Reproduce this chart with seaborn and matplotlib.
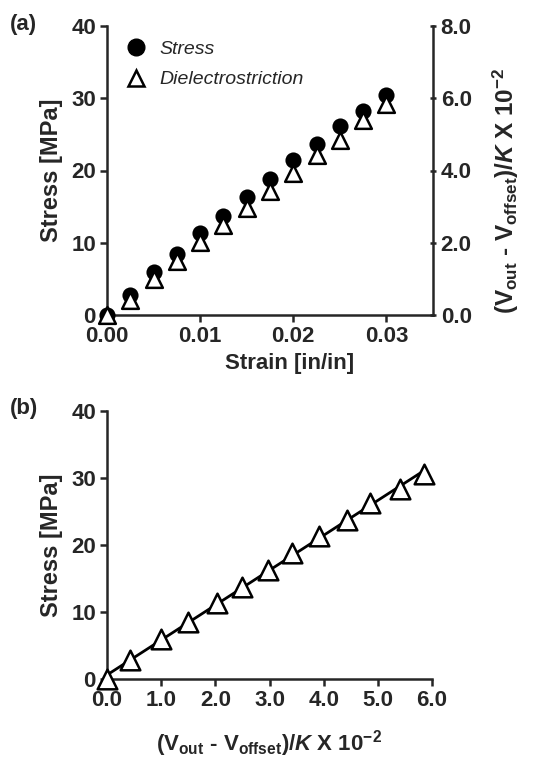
import numpy as np
import pandas as pd
import matplotlib
matplotlib.use("Agg")
import matplotlib.pyplot as plt
import seaborn as sns
from matplotlib.lines import Line2D

# ---- data ----
strain = [0.0, 0.0025, 0.005, 0.0075, 0.01, 0.0125, 0.015, 0.0175, 0.02, 0.0225, 0.025, 0.0275, 0.03]
stress = [0.0, 2.8, 6.0, 8.5, 11.3, 13.7, 16.3, 18.8, 21.4, 23.7, 26.2, 28.3, 30.5]
dielectro = [0.0, 0.42, 1.0, 1.5, 2.03, 2.5, 2.97, 3.42, 3.92, 4.43, 4.85, 5.4, 5.85]
stress_ticks = [0, 10, 20, 30, 40]
strain_ticks = [0.0, 0.01, 0.02, 0.03]
right_ticks = [0.0, 2.0, 4.0, 6.0, 8.0]
vout_ticks = [0.0, 1.0, 2.0, 3.0, 4.0, 5.0, 6.0]

df = pd.DataFrame({"strain": strain, "stress": stress, "diel": dielectro})

sns.set_theme(style="ticks")
plt.rcParams["font.family"] = ["Liberation Sans", "DejaVu Sans"]
plt.rcParams["font.weight"] = "bold"
plt.rcParams["axes.labelweight"] = "bold"
plt.rcParams["mathtext.fontset"] = "custom"
plt.rcParams["mathtext.rm"] = "Liberation Sans:bold"
plt.rcParams["mathtext.bf"] = "Liberation Sans:bold"
plt.rcParams["mathtext.it"] = "Liberation Sans:italic:bold"

fig = plt.figure(figsize=(5.34, 7.73), dpi=100)
axa = fig.add_axes([107/534, 1-315/773, (433-107)/534, (315-26)/773])
axb = fig.add_axes([107/534, 1-679.3/773, (432-107)/534, (679.3-410.7)/773])

lw = 1.8
tick_fs = 16
lab_fs = 16

# ---- panel (a) ----
axa2 = axa.twinx()
sns.scatterplot(data=df, x="strain", y="stress", ax=axa, marker="o", s=135,
                color="black", edgecolor="black", linewidth=0, clip_on=False, zorder=3)
sns.scatterplot(data=df, x="strain", y="diel", ax=axa2, marker="^", s=145,
                facecolor="white", edgecolor="black", linewidth=1.8, clip_on=False, zorder=4)
axa.set_xlim(0, 0.035)
axa.set_ylim(0, 40)
axa2.set_ylim(0, 8)
axa.set_xticks(strain_ticks)
axa.set_xticklabels(["0.00", "0.01", "0.02", "0.03"])
axa.set_yticks(stress_ticks)
axa2.set_yticks(right_ticks)
axa2.set_yticklabels([f"{v:.1f}" for v in right_ticks])
axa.set_xlabel("Strain [in/in]", fontsize=lab_fs, labelpad=4, x=0.56)
axa.set_ylabel("Stress [MPa]", fontsize=lab_fs + 1, labelpad=6)
axa2.set_ylabel(r"$(\mathrm{V_{out}}$ - $\mathrm{V_{offset}})/\mathit{K}$ X 10$^{-2}$",
                fontsize=17.5, labelpad=14, y=0.43)
for ax in (axa, axa2):
    ax.spines["top"].set_visible(False)
    for s in ax.spines.values():
        s.set_linewidth(lw)
axa.spines["right"].set_visible(False)
axa2.spines["left"].set_visible(False)
axa2.spines["bottom"].set_visible(False)
axa.tick_params(axis="both", labelsize=tick_fs, width=lw, length=5, direction="out", pad=3)
axa2.tick_params(axis="y", labelsize=tick_fs, width=lw, length=5, direction="inout", pad=3)
# triangles drawn above circles
axa.set_zorder(0)
axa2.set_zorder(1)
axa2.patch.set_visible(False)

handles = [Line2D([], [], marker="o", ls="none", color="black", markersize=12),
           Line2D([], [], marker="^", ls="none", markerfacecolor="white",
                  markeredgecolor="black", markeredgewidth=1.8, markersize=12)]
leg = axa2.legend(handles, ["Stress", "Dielectrostriction"], loc="upper left",
                  bbox_to_anchor=(-0.025, 1.01), frameon=False, handletextpad=0.2,
                  labelspacing=0.65, prop={"style": "italic", "size": 14, "weight": "normal"})

# ---- panel (b) ----
sns.regplot(data=df, x="diel", y="stress", ax=axb, ci=None, scatter=False,
            color="black", line_kws={"linewidth": 2.0})
sns.scatterplot(data=df, x="diel", y="stress", ax=axb, marker="^", s=200,
                facecolor="white", edgecolor="black", linewidth=1.8, clip_on=False, zorder=4)
axb.set_xlim(0, 6.0)
axb.set_ylim(0, 40)
axb.set_xticks(vout_ticks)
axb.set_xticklabels([f"{v:.1f}" for v in vout_ticks])
axb.set_yticks(stress_ticks)
axb.set_ylabel("Stress [MPa]", fontsize=lab_fs + 1, labelpad=6)
axb.set_xlabel(r"$(\mathrm{V_{out}}$ - $\mathrm{V_{offset}})/\mathit{K}$ X 10$^{-2}$",
               fontsize=lab_fs, labelpad=12)
sns.despine(ax=axb)
for s in axb.spines.values():
    s.set_linewidth(lw)
axb.tick_params(axis="both", labelsize=tick_fs, width=lw, length=5, direction="out", pad=3)

fig.text(10/534, 1-30/773, "(a)", fontsize=16, fontweight="bold")
fig.text(10/534, 1-414/773, "(b)", fontsize=16, fontweight="bold")

fig.savefig("out.png", dpi=100)
